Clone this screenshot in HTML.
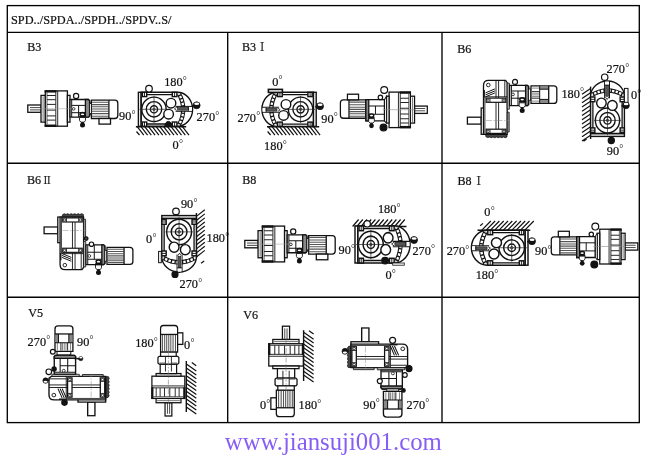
<!DOCTYPE html>
<html lang="zh">
<head>
<meta charset="utf-8">
<title>SPD mounting positions</title>
<style>
html,body{margin:0;padding:0;background:#fff;}
svg{display:block;}
text{font-family:"Liberation Serif","Noto Serif CJK SC",serif;fill:#111;stroke:#111;stroke-width:.22px;}
</style>
</head>
<body>
<svg width="650" height="459" viewBox="0 0 650 459">
<rect width="650" height="459" fill="#fff"/>
<g opacity="0.995">
<defs>
<g id="sv1base" fill="#fff" stroke="#111" stroke-width="1.3">
 <rect x="27.8" y="105" width="13.3" height="7.3"/>
 <path d="M30 107.6H41M30 109.9H41" stroke="#333" stroke-width=".9" fill="none"/>
 <rect x="41" y="95.4" width="4.4" height="26.7"/>
 <path d="M43.1 96.5v24.5" stroke="#555" stroke-width=".8" fill="none"/>
 <rect x="45.3" y="90.9" width="22.1" height="35.3"/>
 <rect x="45.3" y="90.9" width="10.4" height="1" fill="#111"/>
 <rect x="45.3" y="125.2" width="10.4" height="1" fill="#111"/>
 <path d="M47 92.4v32.3" stroke="#333" stroke-width=".8" fill="none"/>
 <path d="M47 95.5h8.6M47 99.7h8.6M47 104.4h8.6M47 110.1h8.6M47 115.9h8.6M47 120.1h8.6" stroke="#222" stroke-width="1" fill="none"/>
 <path d="M55.8 90.9v35.3M57.7 90.9v35.3" stroke-width=".9" fill="none"/>
 <rect x="67.4" y="95.4" width="2.6" height="26.7"/>
 <path d="M91.4 100.2H114.8q3 0 3 3v12.3q0 3 -3 3H91.4z"/>
 <path d="M92 102.2h16.6M92 104.6h16.6M92 106.8h16.6M92 109h16.6M92 111.2h16.6M92 113.6h16.6M92 116.2h16.6" stroke="#555" stroke-width="1.1" fill="none"/>
 <path d="M108.9 100.2v18.3" fill="none"/>
 <rect x="99" y="118.5" width="11.5" height="5.6"/>
</g>
<g id="sv1" fill="#fff" stroke="#111" stroke-width="1.3">
 <use href="#sv1base"/>
 <path d="M70 99.5H88.4l1.2 1.2V116l-1.2 1.2H70z"/>
 <path d="M85.4 99.5h3l1.2 1.2V116l-1.2 1.2h-3z" fill="#888"/>
 <path d="M71.6 105.4H85.4M78.6 105.4V117.2M71.6 112.7H85.4M71.7 100v17" stroke="#111" stroke-width="1" fill="none"/>
 <circle cx="73.7" cy="108.9" r="1.3" stroke-width=".8"/>
 <rect x="89.6" y="103" width="1.8" height="11.4" stroke-width=".9"/>
 <path d="M40 108.7H72" stroke="#999" stroke-width=".5" fill="none"/>
</g>
<g id="sv1b" fill="#fff" stroke="#111" stroke-width="1.3">
 <use href="#sv1base"/>
 <path d="M70 99.8H79.4V117.4H70z"/>
 <path d="M79.4 98.6l1.2 -1.2H86l1.1 1.2V118.6l-1.1 1.2H80.6l-1.2 -1.2z"/>
 <path d="M87.1 100.2H91.4V117H87.1z"/>
 <path d="M72 105.4H87.1M72 111.8H87.1" stroke="#222" stroke-width="1" fill="none"/>
 <path d="M80.5 99v6.4M80.5 111.8V118" stroke="#444" stroke-width=".8" fill="none"/>
 <path d="M40 108.6H92" stroke="#777" stroke-width=".6" fill="none" stroke-dasharray="5 1.5 1.5 1.5"/>
</g>
<g id="sv1c" fill="#fff" stroke="#111" stroke-width="1.3">
 <use href="#sv1base"/>
 <path d="M70 95.4l2.2 2.1v21.2l-2.2 3.4z" stroke-width="1"/>
 <path d="M72.2 97.5H91.4V118.7H72.2z"/>
 <path d="M88.4 97.5h3V118.7h-3z" fill="#888"/>
 <path d="M72.2 104.2H88.4M81.5 104.2V112.4M72.2 112.4H88.4" stroke="#111" stroke-width="1" fill="none"/>
 <path d="M40 108.7H74" stroke="#888" stroke-width=".6" fill="none"/>
</g>
<g id="ev" fill="#fff" stroke="#111" stroke-width="1.4">
 <rect x="138.4" y="92.3" width="2.8" height="34"/>
 <path d="M141.2 92.3H177.5A15.1 17 0 0 1 177.5 126.3H141.2z"/>
 <path d="M178.9 93.6Q187.6 109.3 178.9 125" fill="none" stroke="#111" stroke-width="4.3"/>
 <path d="M178.9 93.6Q187.6 109.3 178.9 125" fill="none" stroke="#fff" stroke-width="2.3" stroke-dasharray="2.4 1.3" stroke-dashoffset="1.2"/>
 <rect x="142.4" y="92.3" width="4.3" height="4.3"/>
 <rect x="172.3" y="92.3" width="4.6" height="4.3"/>
 <rect x="142.4" y="122" width="4.3" height="4.3"/>
 <rect x="172.3" y="122" width="4.6" height="4.3"/>
 <path d="M144.5 92.3v4.3M174.6 92.3v4.3M144.5 122v4.3M174.6 122v4.3" stroke-width=".9" fill="none"/>
 <path d="M146.7 94.6H172.3M146.7 124H172.3" fill="none" stroke-width="1.3"/>
 <path d="M141.2 96.6v25.4" fill="none" stroke-width=".8"/>
 <circle cx="154" cy="109.3" r="12.2"/>
 <circle cx="154" cy="109.3" r="7.7"/>
 <circle cx="154" cy="109.3" r="3.6"/>
 <circle cx="154" cy="109.3" r="1.2" stroke-width=".8"/>
 <path d="M139.5 109.3H167.5M154 95.8V122.8" stroke="#222" stroke-width=".7" fill="none"/>
 <circle cx="171" cy="103.2" r="4.8"/>
 <circle cx="168.6" cy="114.2" r="4.8"/>
 <path d="M175.6 106.4H192.4M175.6 111.3H192.4" fill="none" stroke-width="1"/>
 <rect x="176" y="107" width="16" height="3.7" fill="#fff" stroke="none"/>
 <rect x="177.6" y="107.5" width="10.8" height="2.7" fill="#555" stroke="#222" stroke-width=".7"/>
 <path d="M188.4 106.4v4.9" fill="none" stroke-width=".8"/>
 <path d="M176.8 107.2l-2.4 1.7 2.4 1.7" fill="none" stroke-width=".8"/>
</g>
<g id="sv2" fill="#fff" stroke="#111" stroke-width="1.3">
 <rect x="467.4" y="117.2" width="13.8" height="6.9"/>
 <rect x="481.2" y="108" width="3.7" height="26.3"/>
 <path d="M485.8 134.3h21.2v2.6q-1.8 1.6 -3.5 0q-1.8 1.6 -3.5 0q-1.8 1.6 -3.5 0q-1.8 1.6 -3.5 0q-1.8 1.6 -3.5 0q-1.8 1.6 -3.7 -.4z" fill="#444" stroke-width=".8"/>
 <path d="M483.5 134.3V85.4q0 -5 5 -5H505.6l1.6 2.2V134.3z"/>
 <path d="M507.2 83.2h2.2v26h-2.2z" fill="#bbb" stroke-width=".8"/>
 <path d="M507.2 112.2h2v19.8h-2z" fill="#999" stroke-width=".8"/>
 <path d="M484.9 96.8H507.2" fill="none" stroke-width=".9"/>
 <path d="M484.9 97V134.3" fill="none" stroke-width=".8"/>
 <path d="M496 80.4V134.3M498.6 80.4V134.3M504.8 80.4V97" fill="none" stroke-width=".9"/>
 <rect x="486.2" y="98.1" width="19.6" height="4.2" stroke-width="1.2"/><rect x="486.2" y="129.2" width="19.6" height="4.2" stroke-width="1.2"/><path d="M490 98.1v4.2M502.2 98.1v4.2M490 129.2v4.2M502.2 129.2v4.2" fill="none" stroke-width=".8"/>
 <circle cx="488.1" cy="100.2" r="1.2" stroke-width=".8"/>
 <circle cx="504" cy="100.2" r="1.2" stroke-width=".8"/>
 <circle cx="488.1" cy="131.3" r="1.2" stroke-width=".8"/>
 <circle cx="504" cy="131.3" r="1.2" stroke-width=".8"/>
 <circle cx="488.3" cy="85" r="1.8" stroke-width=".9"/>
 <path d="M485.5 92.9L494.9 88.9M485.5 94.9L494.9 90.9M485.5 96.8L494.9 92.9" fill="none" stroke-width="1"/>
 <path d="M484.2 90V97.5" fill="none" stroke-width="1.4"/>
 <path d="M486 120.5H510" stroke="#888" stroke-width=".5" fill="none" stroke-dasharray="6 1.5 1.5 1.5"/>
 <path d="M509.6 85.4H527.4l1.2 1.2V104.5l-1.2 1.2H509.6z"/>
 <path d="M525.6 85.4h1.8l1.2 1.2V104.5l-1.2 1.2h-1.8z" fill="#888"/>
 <path d="M511.2 91H525.6M518 91V105.7M511.2 98.2H525.6M511.4 86v19.4" stroke="#111" stroke-width="1" fill="none"/>
 <circle cx="513" cy="94.4" r="1.4" stroke-width=".8"/>
 <rect x="528.6" y="89" width="2.2" height="11.2" stroke-width=".8"/>
</g>
<g id="motb" fill="#fff" stroke="#111" stroke-width="1.3">
 <path d="M531 85.8H553.8q3 0 3 3v11.6q0 3 -3 3H531z"/>
 <path d="M539.7 86.2H548.7V89.2H539.7zM539.7 99.4H548.7V103H539.7z" fill="#888" stroke="none"/>
 <path d="M531.8 88.1H539.7M531.8 101.1H539.7M531.8 93.2H539.7M531.8 94.9H539.7M531.8 96.6H539.7" stroke="#888" stroke-width="1" fill="none"/>
 <path d="M531.8 91.6H539.7M531.8 98.2H539.7" stroke="#111" stroke-width=".9" fill="none"/>
 <path d="M539.7 89.2H548.7M539.7 99.4H548.7M539.7 85.8V103.4" stroke-width="1" fill="none"/>
 <path d="M548.7 85.8V103.4" fill="none"/>
</g>
<g id="motc" fill="#fff" stroke="#111" stroke-width="1.3">
 <path d="M530.8 85.8H553.9q3 0 3 3v11.4q0 3 -3 3H530.8z"/>
 <path d="M531.4 87.8h16.4M531.4 90.1h16.4M531.4 92.3h16.4M531.4 94.5h16.4M531.4 96.7h16.4M531.4 98.9h16.4M531.4 101.2h16.4" stroke="#555" stroke-width="1.1" fill="none"/>
 <path d="M548 85.8v17.4" fill="none"/>
</g>
<g id="plug" stroke="#111" stroke-width="1">
 <ellipse cx="0" cy="0" rx="3.1" ry="2.4" fill="#111" stroke="none"/>
 <ellipse cx="0" cy=".1" rx="1.7" ry=".9" fill="#fff" stroke="none"/>
 <rect x="-3.2" y="1.4" width="6.4" height="1.9" fill="#111" stroke="none"/>
 <path d="M-3 3.3h6v2.9l-1.3 1.8h-3.4l-1.3 -1.8z" fill="#fff" stroke-width=".9"/>
 <circle cx="0" cy="10.9" r="2.5" fill="#111" stroke="none"/>
 <rect x="-1.2" y="7.8" width="2.4" height="1.5" fill="#111" stroke="none"/>
</g>
<g id="hball" stroke="#111">
 <path d="M-4.8 .5h2" stroke-width="1.6"/>
 <circle cx="0" cy="0" r="3.5" fill="#111" stroke-width=".8"/>
 <ellipse cx=".1" cy="-1.5" rx="2.5" ry="1.3" fill="#fff" stroke="none"/>
</g>
</defs>
<g fill="none" stroke="#000" stroke-width="1.35">
<rect x="7.3" y="5.6" width="632" height="417"/>
<path d="M7.3 32.3H639.3M7.3 163.2H639.3M7.3 297.2H639.3M227.7 32.3V422.6M442 32.3V422.6"/>
</g>
<text transform="translate(11.0 23.7) scale(1 1.05)" font-size="12.3">SPD../SPDA../SPDH../SPDV..S/</text>
<text transform="translate(27.2 50.6) scale(1 1.05)" font-size="12.1">B3</text>
<text transform="translate(241.9 51.0) scale(1 1.05)" font-size="12.1">B3</text>
<text transform="translate(257.1 51.0) scale(1 1.05)" font-size="10.4">Ⅰ</text>
<text transform="translate(457.2 52.8) scale(1 1.05)" font-size="12.1">B6</text>
<text transform="translate(27.0 183.6) scale(1 1.05)" font-size="12.1">B6</text>
<text transform="translate(42.0 183.6) scale(1 1.05)" font-size="10.2">Ⅱ</text>
<text transform="translate(242.2 184.4) scale(1 1.05)" font-size="12.1">B8</text>
<text transform="translate(457.4 185.1) scale(1 1.05)" font-size="12.1">B8</text>
<text transform="translate(473.4 185.1) scale(1 1.05)" font-size="10.4">Ⅰ</text>
<text transform="translate(28.3 316.6) scale(1 1.05)" font-size="12.1">V5</text>
<text transform="translate(243.3 318.8) scale(1 1.05)" font-size="12.1">V6</text>
<use href="#sv1"/>
<circle cx="76.1" cy="96.0" r="2.6" fill="#fff" stroke="#111" stroke-width="1.2"/>
<use href="#plug" transform="translate(82.5 114.2) rotate(0) scale(1.00)"/>
<path d="M135.9 126.7L186.2 126.7" stroke="#111" stroke-width="1.4" fill="none"/><path d="M137.2 126.7l6.6 8.5M141.0 126.7l6.6 8.5M144.7 126.7l6.6 8.5M148.5 126.7l6.6 8.5M152.3 126.7l6.6 8.5M156.1 126.7l6.6 8.5M159.8 126.7l6.6 8.5M163.6 126.7l6.6 8.5M167.4 126.7l6.6 8.5M171.1 126.7l6.6 8.5M174.9 126.7l6.6 8.5M178.7 126.7l6.6 8.5M182.4 126.7l6.6 8.5M136.5 131.5l3 3.5" stroke="#111" stroke-width="1.2" fill="none"/>
<use href="#ev"/>
<circle cx="149.0" cy="88.7" r="3.3" fill="#fff" stroke="#111" stroke-width="1.2"/>
<use href="#hball" transform="translate(196.6 105.3) rotate(0) scale(1.00)"/>
<path d="M164.8 126.3a3.6 4.9 0 0 1 7.2 0z" fill="#111" stroke="#111"/>
<text transform="translate(164.2 86.3) scale(1 1.05)" font-size="12.3">180<tspan dy="-2.2" dx="0.2" font-size="10.1" style="stroke-width:0">°</tspan></text>
<text transform="translate(119.0 120.2) scale(1 1.05)" font-size="12.3">90<tspan dy="-2.2" dx="0.2" font-size="10.1" style="stroke-width:0">°</tspan></text>
<text transform="translate(196.6 121.4) scale(1 1.05)" font-size="12.3">270<tspan dy="-2.2" dx="0.2" font-size="10.1" style="stroke-width:0">°</tspan></text>
<text transform="translate(172.6 149.0) scale(1 1.05)" font-size="12.3">0<tspan dy="-2.2" dx="0.2" font-size="10.1" style="stroke-width:0">°</tspan></text>
<path d="M267.0 126.7L319.2 126.7" stroke="#111" stroke-width="1.4" fill="none"/><path d="M268.3 126.7l6.6 8.5M272.1 126.7l6.6 8.5M275.8 126.7l6.6 8.5M279.6 126.7l6.6 8.5M283.4 126.7l6.6 8.5M287.1 126.7l6.6 8.5M290.9 126.7l6.6 8.5M294.7 126.7l6.6 8.5M298.5 126.7l6.6 8.5M302.2 126.7l6.6 8.5M306.0 126.7l6.6 8.5M309.8 126.7l6.6 8.5M313.5 126.7l6.6 8.5M267.6 131.5l3 3.5" stroke="#111" stroke-width="1.2" fill="none"/>
<use href="#ev" transform="matrix(-1.0018 0.0000 0.0000 -1.0029 454.855 218.971)"/>
<rect x="268.4" y="89.4" width="14" height="3" fill="#fff" stroke="#111" stroke-width="1.6"/>
<use href="#hball" transform="translate(320.0 106.2) rotate(0) scale(1.00)"/>
<use href="#sv1c" transform="matrix(-0.9656 0.0000 0.0000 -1.0057 454.142 219.015)"/>
<circle cx="384.2" cy="90.0" r="3.4" fill="#fff" stroke="#111" stroke-width="1.2"/>
<circle cx="380.4" cy="97.4" r="2.2" fill="#fff" stroke="#111" stroke-width="1.2"/>
<use href="#plug" transform="translate(371.5 115.5) rotate(0) scale(0.95)"/>
<circle cx="383.5" cy="127.4" r="3.4" fill="#111" stroke="#111" stroke-width="1.2"/>
<text transform="translate(272.2 85.5) scale(1 1.05)" font-size="12.3">0<tspan dy="-2.2" dx="0.2" font-size="10.1" style="stroke-width:0">°</tspan></text>
<text transform="translate(237.5 121.6) scale(1 1.05)" font-size="12.3">270<tspan dy="-2.2" dx="0.2" font-size="10.1" style="stroke-width:0">°</tspan></text>
<text transform="translate(321.3 122.5) scale(1 1.05)" font-size="12.3">90<tspan dy="-2.2" dx="0.2" font-size="10.1" style="stroke-width:0">°</tspan></text>
<text transform="translate(264.1 149.9) scale(1 1.05)" font-size="12.3">180<tspan dy="-2.2" dx="0.2" font-size="10.1" style="stroke-width:0">°</tspan></text>
<use href="#sv2"/>
<use href="#motb"/>
<circle cx="515.0" cy="81.9" r="2.5" fill="#fff" stroke="#111" stroke-width="1.2"/>
<use href="#plug" transform="translate(522.2 99.5) rotate(0) scale(1.00)"/>
<path d="M590.6 86.6L590.6 139.0" stroke="#111" stroke-width="1.4" fill="none"/><path d="M590.6 88.6l-8.6 5.6M590.6 92.8l-8.6 5.6M590.6 97.1l-8.6 5.6M590.6 101.3l-8.6 5.6M590.6 105.6l-8.6 5.6M590.6 109.8l-8.6 5.6M590.6 114.1l-8.6 5.6M590.6 118.3l-8.6 5.6M590.6 122.6l-8.6 5.6M590.6 126.8l-8.6 5.6M590.6 131.1l-8.6 5.6M590.6 135.3l-8.6 5.6M586.6 139l-3 2.2" stroke="#111" stroke-width="1.2" fill="none"/>
<use href="#ev" transform="matrix(0.0000 -1.0239 0.9941 0.0000 498.843 278.113)"/>
<circle cx="604.7" cy="77.2" r="3.2" fill="#fff" stroke="#111" stroke-width="1.2"/>
<rect x="624.4" y="88.4" width="3.6" height="14.2" fill="#fff" stroke="#111"/>
<use href="#hball" transform="translate(626.0 105.4) rotate(0) scale(0.95)"/>
<circle cx="611.3" cy="140.5" r="3.1" fill="#111" stroke="#111" stroke-width="1.2"/>
<text transform="translate(561.4 97.5) scale(1 1.05)" font-size="12.3">180<tspan dy="-2.2" dx="0.2" font-size="10.1" style="stroke-width:0">°</tspan></text>
<text transform="translate(606.5 73.1) scale(1 1.05)" font-size="12.3">270<tspan dy="-2.2" dx="0.2" font-size="10.1" style="stroke-width:0">°</tspan></text>
<text transform="translate(630.9 99.2) scale(1 1.05)" font-size="12.3">0<tspan dy="-2.2" dx="0.2" font-size="10.1" style="stroke-width:0">°</tspan></text>
<text transform="translate(606.8 154.8) scale(1 1.05)" font-size="12.3">90<tspan dy="-2.2" dx="0.2" font-size="10.1" style="stroke-width:0">°</tspan></text>
<use href="#sv2" transform="matrix(0.9921 0.0000 0.0000 -0.9754 -419.614 348.025)"/>
<use href="#motc" transform="matrix(0.9921 0.0000 0.0000 -0.9754 -419.614 348.025)"/>
<circle cx="91.5" cy="244.2" r="2.2" fill="#fff" stroke="#111" stroke-width="1.2"/>
<circle cx="86.2" cy="238.6" r="1.8" fill="#444" stroke="#111" stroke-width="1.2"/>
<use href="#plug" transform="translate(98.5 261.6) rotate(0) scale(1.00)"/>
<path d="M196.4 213.0L196.4 258.0" stroke="#111" stroke-width="1.4" fill="none"/><path d="M196.4 216.4l8.4 -6.6M196.4 220.5l8.4 -6.6M196.4 224.5l8.4 -6.6M196.4 228.6l8.4 -6.6M196.4 232.6l8.4 -6.6M196.4 236.7l8.4 -6.6M196.4 240.8l8.4 -6.6M196.4 244.8l8.4 -6.6M196.4 248.9l8.4 -6.6M196.4 252.9l8.4 -6.6M196.4 257.0l8.4 -6.6M201 263.3l3.2 -2.4" stroke="#111" stroke-width="1.2" fill="none"/>
<use href="#ev" transform="matrix(0.0000 1.0442 -1.0176 0.0000 290.329 71.083)"/>
<circle cx="176.0" cy="211.4" r="3.3" fill="#fff" stroke="#111" stroke-width="1.2"/>
<rect x="158.6" y="251.4" width="2.7" height="11.3" fill="#fff" stroke="#111"/>
<circle cx="175.0" cy="274.4" r="3.0" fill="#111" stroke="#111" stroke-width="1.2"/>
<text transform="translate(180.9 208.0) scale(1 1.05)" font-size="12.3">90<tspan dy="-2.2" dx="0.2" font-size="10.1" style="stroke-width:0">°</tspan></text>
<text transform="translate(146.1 243.4) scale(1 1.05)" font-size="12.3">0<tspan dy="-2.2" dx="0.2" font-size="10.1" style="stroke-width:0">°</tspan></text>
<text transform="translate(206.5 241.9) scale(1 1.05)" font-size="12.3">180<tspan dy="-2.2" dx="0.2" font-size="10.1" style="stroke-width:0">°</tspan></text>
<text transform="translate(179.5 288.3) scale(1 1.05)" font-size="12.3">270<tspan dy="-2.2" dx="0.2" font-size="10.1" style="stroke-width:0">°</tspan></text>
<use href="#sv1" transform="matrix(1.0044 0.0000 0.0000 1.0142 216.876 133.912)"/>
<circle cx="293.2" cy="231.4" r="2.6" fill="#fff" stroke="#111" stroke-width="1.2"/>
<use href="#plug" transform="translate(299.4 250.2) rotate(0) scale(1.00)"/>
<path d="M354.8 226.5L406.5 226.5" stroke="#111" stroke-width="1.4" fill="none"/><path d="M352.6 226.5l6.0 -7.0M356.8 226.5l6.0 -7.0M361.0 226.5l6.0 -7.0M365.2 226.5l6.0 -7.0M369.4 226.5l6.0 -7.0M373.6 226.5l6.0 -7.0M377.8 226.5l6.0 -7.0M382.0 226.5l6.0 -7.0M386.2 226.5l6.0 -7.0M390.4 226.5l6.0 -7.0M394.6 226.5l6.0 -7.0M398.8 226.5l6.0 -7.0" stroke="#111" stroke-width="1.2" fill="none"/>
<use href="#ev" transform="matrix(1.0166 0.0000 0.0000 1.0882 214.306 125.556)"/>
<circle cx="367.2" cy="223.8" r="3.2" fill="#fff" stroke="#111" stroke-width="1.2"/>
<use href="#hball" transform="translate(414.0 240.0) rotate(0) scale(1.00)"/>
<circle cx="385.1" cy="260.6" r="3.3" fill="#111" stroke="#111" stroke-width="1.2"/>
<rect x="392.7" y="263" width="11.6" height="2.2" fill="#fff" stroke="#111" stroke-width=".8"/>
<text transform="translate(377.9 213.3) scale(1 1.05)" font-size="12.3">180<tspan dy="-2.2" dx="0.2" font-size="10.1" style="stroke-width:0">°</tspan></text>
<text transform="translate(338.6 254.2) scale(1 1.05)" font-size="12.3">90<tspan dy="-2.2" dx="0.2" font-size="10.1" style="stroke-width:0">°</tspan></text>
<text transform="translate(412.4 254.6) scale(1 1.05)" font-size="12.3">270<tspan dy="-2.2" dx="0.2" font-size="10.1" style="stroke-width:0">°</tspan></text>
<text transform="translate(385.5 279.3) scale(1 1.05)" font-size="12.3">0<tspan dy="-2.2" dx="0.2" font-size="10.1" style="stroke-width:0">°</tspan></text>
<path d="M477.5 230.2L530.3 230.2" stroke="#111" stroke-width="1.4" fill="none"/><path d="M481.8 230.2l9.0 -9.2M486.1 230.2l9.0 -9.2M490.4 230.2l9.0 -9.2M494.7 230.2l9.0 -9.2M499.0 230.2l9.0 -9.2M503.3 230.2l9.0 -9.2M507.6 230.2l9.0 -9.2M511.9 230.2l9.0 -9.2M516.2 230.2l9.0 -9.2M520.5 230.2l9.0 -9.2M524.8 230.2l9.0 -9.2M480.2 225.8l2.8 -2.4" stroke="#111" stroke-width="1.2" fill="none"/>
<use href="#ev" transform="matrix(-1.0442 0.0000 0.0000 -1.0265 672.517 359.943)"/>
<use href="#hball" transform="translate(532.0 241.2) rotate(0) scale(1.00)"/>
<use href="#sv1c" transform="matrix(-0.9611 0.0000 0.0000 -0.9858 664.519 353.612)"/>
<circle cx="595.3" cy="226.6" r="3.4" fill="#fff" stroke="#111" stroke-width="1.2"/>
<circle cx="591.3" cy="234.3" r="2.2" fill="#fff" stroke="#111" stroke-width="1.2"/>
<use href="#plug" transform="translate(582.2 253.0) rotate(0) scale(0.95)"/>
<circle cx="594.3" cy="264.5" r="3.4" fill="#111" stroke="#111" stroke-width="1.2"/>
<text transform="translate(484.3 216.3) scale(1 1.05)" font-size="12.3">0<tspan dy="-2.2" dx="0.2" font-size="10.1" style="stroke-width:0">°</tspan></text>
<text transform="translate(446.7 255.2) scale(1 1.05)" font-size="12.3">270<tspan dy="-2.2" dx="0.2" font-size="10.1" style="stroke-width:0">°</tspan></text>
<text transform="translate(535.1 255.2) scale(1 1.05)" font-size="12.3">90<tspan dy="-2.2" dx="0.2" font-size="10.1" style="stroke-width:0">°</tspan></text>
<text transform="translate(475.7 279.3) scale(1 1.05)" font-size="12.3">180<tspan dy="-2.2" dx="0.2" font-size="10.1" style="stroke-width:0">°</tspan></text>
<use href="#sv2" transform="matrix(0.0000 -0.9858 1.0509 0.0000 -35.491 876.465)"/>
<rect x="57" y="351.4" width="13.8" height="3.4" fill="#fff" stroke="#111"/>
<use href="#motb" transform="matrix(0.0000 -0.9847 1.0172 0.0000 -32.279 874.265)"/>
<path d="M74.5 358.6h4.5" stroke="#111" stroke-width="1.4"/>
<circle cx="52.8" cy="351.7" r="2.4" fill="#fff" stroke="#111" stroke-width="1.2"/>
<use href="#hball" transform="translate(80.8 358.6) rotate(0) scale(0.62)"/>
<circle cx="48.8" cy="371.8" r="2.8" fill="#fff" stroke="#111" stroke-width="1.2"/>
<circle cx="54.1" cy="369.0" r="2.1" fill="#111" stroke="#111" stroke-width="1.2"/>
<use href="#hball" transform="translate(45.6 380.6) rotate(180) scale(0.78)"/>
<circle cx="64.5" cy="402.6" r="2.7" fill="#111" stroke="#111" stroke-width="1.2"/>
<use href="#sv1b" transform="matrix(0.0000 -1.0056 0.9320 0.0000 67.180 443.954)"/>
<path d="M186.3 361.0L186.3 412.0" stroke="#111" stroke-width="1.4" fill="none"/><path d="M186.3 364.0l10.0 7.0M186.3 367.9l10.0 7.0M186.3 371.8l10.0 7.0M186.3 375.7l10.0 7.0M186.3 379.6l10.0 7.0M186.3 383.5l10.0 7.0M186.3 387.4l10.0 7.0M186.3 391.3l10.0 7.0M186.3 395.2l10.0 7.0M186.3 399.1l10.0 7.0M186.3 403.0l10.0 7.0M186.3 406.9l10.0 7.0M191.8 362.5l4.4 3.2" stroke="#111" stroke-width="1.2" fill="none"/>
<text transform="translate(27.6 345.5) scale(1 1.05)" font-size="12.3">270<tspan dy="-2.2" dx="0.2" font-size="10.1" style="stroke-width:0">°</tspan></text>
<text transform="translate(77.0 345.5) scale(1 1.05)" font-size="12.3">90<tspan dy="-2.2" dx="0.2" font-size="10.1" style="stroke-width:0">°</tspan></text>
<text transform="translate(135.2 347.4) scale(1 1.05)" font-size="12.3">180<tspan dy="-2.2" dx="0.2" font-size="10.1" style="stroke-width:0">°</tspan></text>
<text transform="translate(184.1 348.8) scale(1 1.05)" font-size="12.3">0<tspan dy="-2.2" dx="0.2" font-size="10.1" style="stroke-width:0">°</tspan></text>
<use href="#sv1b" transform="matrix(0.0000 1.0056 -0.9802 0.0000 392.497 298.246)"/>
<path d="M303.6 330.2L303.6 381.0" stroke="#111" stroke-width="1.4" fill="none"/><path d="M303.6 332.2l10.0 7.0M303.6 336.1l10.0 7.0M303.6 340.0l10.0 7.0M303.6 343.9l10.0 7.0M303.6 347.8l10.0 7.0M303.6 351.7l10.0 7.0M303.6 355.6l10.0 7.0M303.6 359.5l10.0 7.0M303.6 363.4l10.0 7.0M303.6 367.3l10.0 7.0M303.6 371.2l10.0 7.0M303.6 375.1l10.0 7.0M309 330.8l4.6 3.3" stroke="#111" stroke-width="1.2" fill="none"/>
<use href="#sv2" transform="matrix(0.0000 0.9968 -1.0509 0.0000 492.091 -137.926)"/>
<use href="#motb" transform="matrix(0.0000 0.9968 -1.0509 0.0000 492.091 -137.926)"/>
<circle cx="392.6" cy="340.3" r="3.0" fill="#fff" stroke="#111" stroke-width="1.2"/>
<use href="#hball" transform="translate(345.0 351.3) rotate(180) scale(0.85)"/>
<circle cx="409.0" cy="368.6" r="3.0" fill="#111" stroke="#111" stroke-width="1.2"/>
<circle cx="404.9" cy="375.0" r="2.3" fill="#fff" stroke="#111" stroke-width="1.2"/>
<circle cx="379.8" cy="381.1" r="2.5" fill="#fff" stroke="#111" stroke-width="1.2"/>
<circle cx="403.5" cy="390.4" r="1.7" fill="#111" stroke="#111" stroke-width="1.2"/>
<text transform="translate(260.0 409.2) scale(1 1.05)" font-size="12.3">0<tspan dy="-2.2" dx="0.2" font-size="10.1" style="stroke-width:0">°</tspan></text>
<text transform="translate(298.6 409.2) scale(1 1.05)" font-size="12.3">180<tspan dy="-2.2" dx="0.2" font-size="10.1" style="stroke-width:0">°</tspan></text>
<text transform="translate(363.3 408.5) scale(1 1.05)" font-size="12.3">90<tspan dy="-2.2" dx="0.2" font-size="10.1" style="stroke-width:0">°</tspan></text>
<text transform="translate(406.6 408.5) scale(1 1.05)" font-size="12.3">270<tspan dy="-2.2" dx="0.2" font-size="10.1" style="stroke-width:0">°</tspan></text>
<text x="224.8" y="450.2" font-size="24.75" style="fill:#865df5;stroke:none">www.jiansuji001.com</text>
</g>
</svg>
</body>
</html>
